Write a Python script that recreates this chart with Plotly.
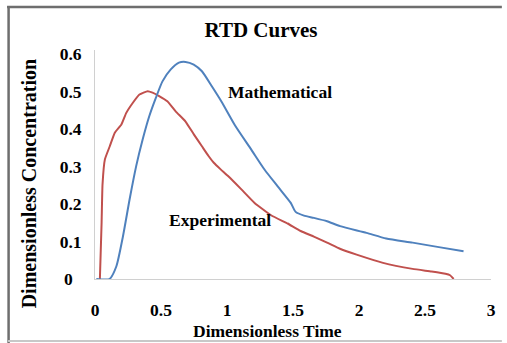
import plotly.graph_objects as go

# Experimental RTD curve (red)
exp_t = [0.037, 0.050, 0.057, 0.075, 0.112, 0.150, 0.200, 0.237, 0.287, 0.337, 0.399,
         0.436, 0.486, 0.548, 0.611, 0.686, 0.750, 0.810, 0.860, 0.900, 0.950, 1.010,
         1.109, 1.209, 1.334, 1.459, 1.558, 1.658, 1.758, 1.860, 1.982, 2.182, 2.406,
         2.550, 2.655, 2.690, 2.717]
exp_c = [0.000, 0.150, 0.252, 0.319, 0.354, 0.390, 0.412, 0.443, 0.470, 0.492, 0.501,
         0.497, 0.488, 0.474, 0.447, 0.420, 0.385, 0.354, 0.328, 0.310, 0.293, 0.274,
         0.239, 0.203, 0.170, 0.148, 0.128, 0.113, 0.097, 0.080, 0.065, 0.043, 0.027,
         0.020, 0.014, 0.010, 0.000]

# Mathematical RTD curve (blue)
math_t = [0.010, 0.110, 0.162, 0.212, 0.262, 0.312, 0.361, 0.411, 0.461, 0.511, 0.574,
          0.636, 0.686, 0.748, 0.810, 0.885, 0.960, 1.060, 1.184, 1.284, 1.384, 1.483,
          1.520, 1.583, 1.658, 1.758, 1.857, 2.057, 2.206, 2.406, 2.605, 2.792]
math_c = [0.000, 0.000, 0.034, 0.114, 0.212, 0.301, 0.372, 0.434, 0.483, 0.527, 0.559,
          0.577, 0.579, 0.572, 0.554, 0.514, 0.472, 0.410, 0.345, 0.292, 0.247, 0.203,
          0.179, 0.169, 0.163, 0.154, 0.141, 0.123, 0.108, 0.097, 0.085, 0.074]

x_ticks = [0, 0.5, 1, 1.5, 2, 2.5, 3]
x_labels = ["0", "0.5", "1", "1.5", "2", "2.5", "3"]
y_ticks = [0, 0.1, 0.2, 0.3, 0.4, 0.5, 0.6]
y_labels = ["0\u00a0\u00a0", "0.1", "0.2", "0.3", "0.4", "0.5", "0.6"]

FONT = "Liberation Serif, Times New Roman, serif"

fig = go.Figure()
fig.add_trace(go.Scatter(x=exp_t, y=exp_c, mode="lines", name="Experimental",
                         line=dict(color="#C0504D", width=2, shape="spline", smoothing=0.4)))
fig.add_trace(go.Scatter(x=math_t, y=math_c, mode="lines", name="Mathematical",
                         line=dict(color="#4F81BD", width=2, shape="spline", smoothing=0.6)))

fig.update_layout(
    width=507, height=343,
    margin=dict(l=95, r=11, t=50, b=64),
    paper_bgcolor="white", plot_bgcolor="white",
    showlegend=False,
    font=dict(family=FONT, color="black"),
    title=dict(text="<b>RTD Curves</b>", x=261/507, xref="container", xanchor="center",
               y=1-30/343, yref="container", yanchor="middle",
               font=dict(family=FONT, size=21, color="black")),
)
fig.update_xaxes(range=[0, 3], tickvals=x_ticks, ticktext=["<b>%s</b>" % s for s in x_labels],
                 showgrid=False, zeroline=False, showline=True, linecolor="#D0D0D0", linewidth=1,
                 ticks="", ticklabelstandoff=15, tickfont=dict(family=FONT, size=17.5, color="black"))
fig.update_yaxes(range=[0, 0.6107], tickvals=y_ticks, ticktext=["<b>%s</b>" % s for s in y_labels],
                 showgrid=False, zeroline=False, showline=True, linecolor="#D0D0D0", linewidth=1,
                 ticks="", ticklabelstandoff=9, tickfont=dict(family=FONT, size=17.5, color="black"))

# axis titles and curve labels
fig.add_annotation(text="<b>Dimensionless Time</b>", xref="paper", yref="paper",
                   x=(270-95)/401, y=(279-331)/229, xanchor="center", yanchor="middle",
                   showarrow=False, font=dict(family=FONT, size=17.5, color="black"))
fig.add_annotation(text="<b>Dimensionless Concentration</b>", xref="paper", yref="paper",
                   x=(28-95)/401, y=(279-183.5)/229, xanchor="center", yanchor="middle",
                   textangle=-90, showarrow=False, font=dict(family=FONT, size=20, color="black"))
fig.add_annotation(text="<b>Mathematical</b>", x=1.399, y=0.500, xanchor="center", yanchor="middle",
                   showarrow=False, font=dict(family=FONT, size=17.5, color="black"))
fig.add_annotation(text="<b>Experimental</b>", x=0.95, y=0.158, xanchor="center", yanchor="middle",
                   showarrow=False, font=dict(family=FONT, size=17.5, color="black"))

# picture frame
def px(xp):
    return (xp - 95) / 401
def py(yp):
    return (279 - yp) / 229

fig.add_shape(type="line", xref="paper", yref="paper", x0=px(6), x1=px(507), y0=py(7), y1=py(7),
              line=dict(color="#6E6E6E", width=2.5))
fig.add_shape(type="line", xref="paper", yref="paper", x0=px(7.5), x1=px(7.5), y0=py(6), y1=py(343),
              line=dict(color="#6E6E6E", width=2.5))
fig.add_shape(type="line", xref="paper", yref="paper", x0=px(7), x1=px(507), y0=py(341), y1=py(341),
              line=dict(color="#C8C8C8", width=2))

fig.write_html("out.html")
